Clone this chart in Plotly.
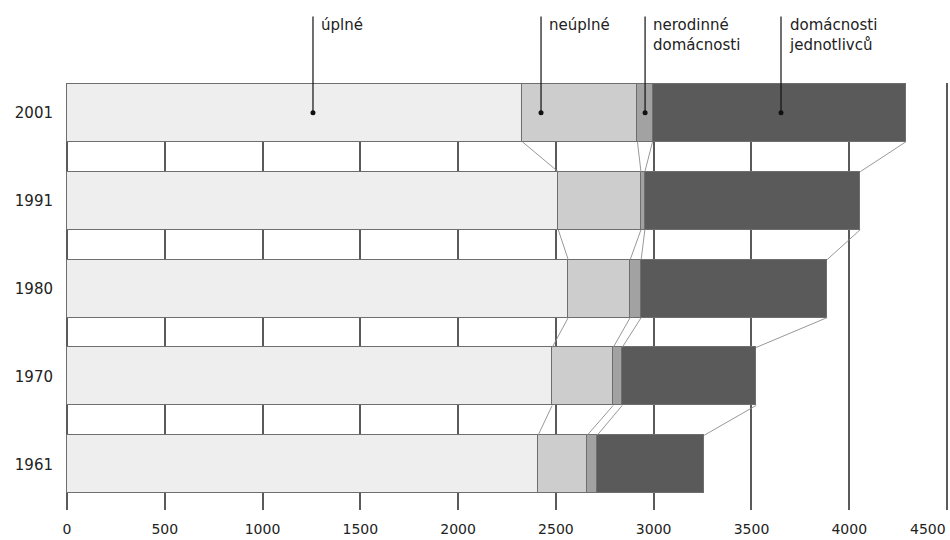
import plotly.graph_objects as go

# ---- data (thousands of households), ordered bottom -> top ----
years = ["1961", "1970", "1980", "1991", "2001"]
uplne = [2409, 2481, 2563, 2512, 2329]
neuplne = [251, 312, 317, 423, 588]
nerodinne = [51, 46, 56, 20, 77]
jednotlivci = [547, 685, 951, 1101, 1295]

series_names = ["úplné", "neúplné", "nerodinné<br>domácnosti", "domácnosti<br>jednotlivců"]
tick_vals = [0, 500, 1000, 1500, 2000, 2500, 3000, 3500, 4000, 4500]
tick_text = ["0", "500", "1000", "1500", "2000", "2500", "3000", "3500", "4000", "4500"]

# ---- style ----
colors = ["#eeeeee", "#cdcdcd", "#a2a2a2", "#5a5a5a"]
outline = "#6e6e6e"
grid = "#5a5a5a"
bar_w = 0.66
XR = [-10, 4510]
YR = [-0.52, 4.34]
FONT = "DejaVu Sans"
TXT = "#222222"

# label leader positions (x in data units) for the callouts above the chart
callout_x = [1258, 2424, 2956, 3651]

ypos = list(range(len(years)))
series = [uplne, neuplne, nerodinne, jednotlivci]

fig = go.Figure()
for vals, col, name in zip(series, colors, series_names):
    fig.add_trace(go.Bar(
        y=ypos, x=vals, orientation="h", width=bar_w, name=name,
        marker=dict(color=col, line=dict(color=outline, width=1.3)),
        showlegend=False, hoverinfo="x",
    ))

# cumulative boundaries and connectors between consecutive bars
cums = []
run = [0] * len(years)
for vals in series:
    run = [a + b for a, b in zip(run, vals)]
    cums.append(run)

half = bar_w / 2
for cum in cums:
    xs, ys = [], []
    for i in range(len(years) - 1):
        xs += [cum[i], cum[i + 1], None]
        ys += [ypos[i] + half, ypos[i + 1] - half, None]
    fig.add_trace(go.Scatter(x=xs, y=ys, mode="lines",
                             line=dict(color="#8c8c8c", width=0.9),
                             showlegend=False, hoverinfo="skip"))

# callout dots on the top bar
top = ypos[-1]
fig.add_trace(go.Scatter(x=callout_x, y=[top] * len(callout_x), mode="markers",
                         marker=dict(color="#111111", size=5),
                         showlegend=False, hoverinfo="skip"))


def xpaper(v):
    return (v - XR[0]) / (XR[1] - XR[0])


def ypaper(v):
    return (v - YR[0]) / (YR[1] - YR[0])


shapes = []
annotations = []
line_top = 1.156
for cx, name in zip(callout_x, series_names):
    shapes.append(dict(type="line", xref="paper", yref="paper",
                       x0=xpaper(cx), x1=xpaper(cx), y0=ypaper(top), y1=line_top,
                       line=dict(color="#111111", width=1.2), layer="above"))
    annotations.append(dict(text=name, xref="paper", yref="paper",
                            x=xpaper(cx), y=line_top + 0.006, xanchor="left", yanchor="top",
                            xshift=6, showarrow=False, align="left",
                            font=dict(family=FONT, size=15, color=TXT)))

# last x tick label kept inside the page
annotations.append(dict(text=tick_text[-1], xref="x", yref="paper", x=tick_vals[-1], y=0,
                        xanchor="right", yanchor="top", yshift=-10, showarrow=False,
                        borderpad=0,
                        font=dict(family=FONT, size=14, color=TXT)))

fig.update_layout(
    width=950, height=540,
    margin=dict(l=65, r=1, t=83, b=30, autoexpand=False),
    barmode="stack", bargap=0,
    plot_bgcolor="white", paper_bgcolor="white",
    shapes=shapes, annotations=annotations,
    font=dict(family=FONT, size=15, color=TXT),
)
fig.update_xaxes(range=XR, tickvals=tick_vals, ticktext=tick_text[:-1] + [""],
                 showgrid=True, gridcolor=grid, gridwidth=1.5, zeroline=False,
                 showline=False, ticks="", ticklabelstandoff=9, automargin=False,
                 tickfont=dict(family=FONT, size=14, color=TXT))
fig.update_yaxes(range=YR, tickvals=ypos, ticktext=years, showgrid=False,
                 zeroline=False, showline=False, ticks="", ticklabelstandoff=11,
                 automargin=False, tickfont=dict(family=FONT, size=15, color=TXT))

fig.write_html("out.html", config={"displayModeBar": False},
               post_script="document.body.style.margin='0';document.body.style.overflow='hidden';")
